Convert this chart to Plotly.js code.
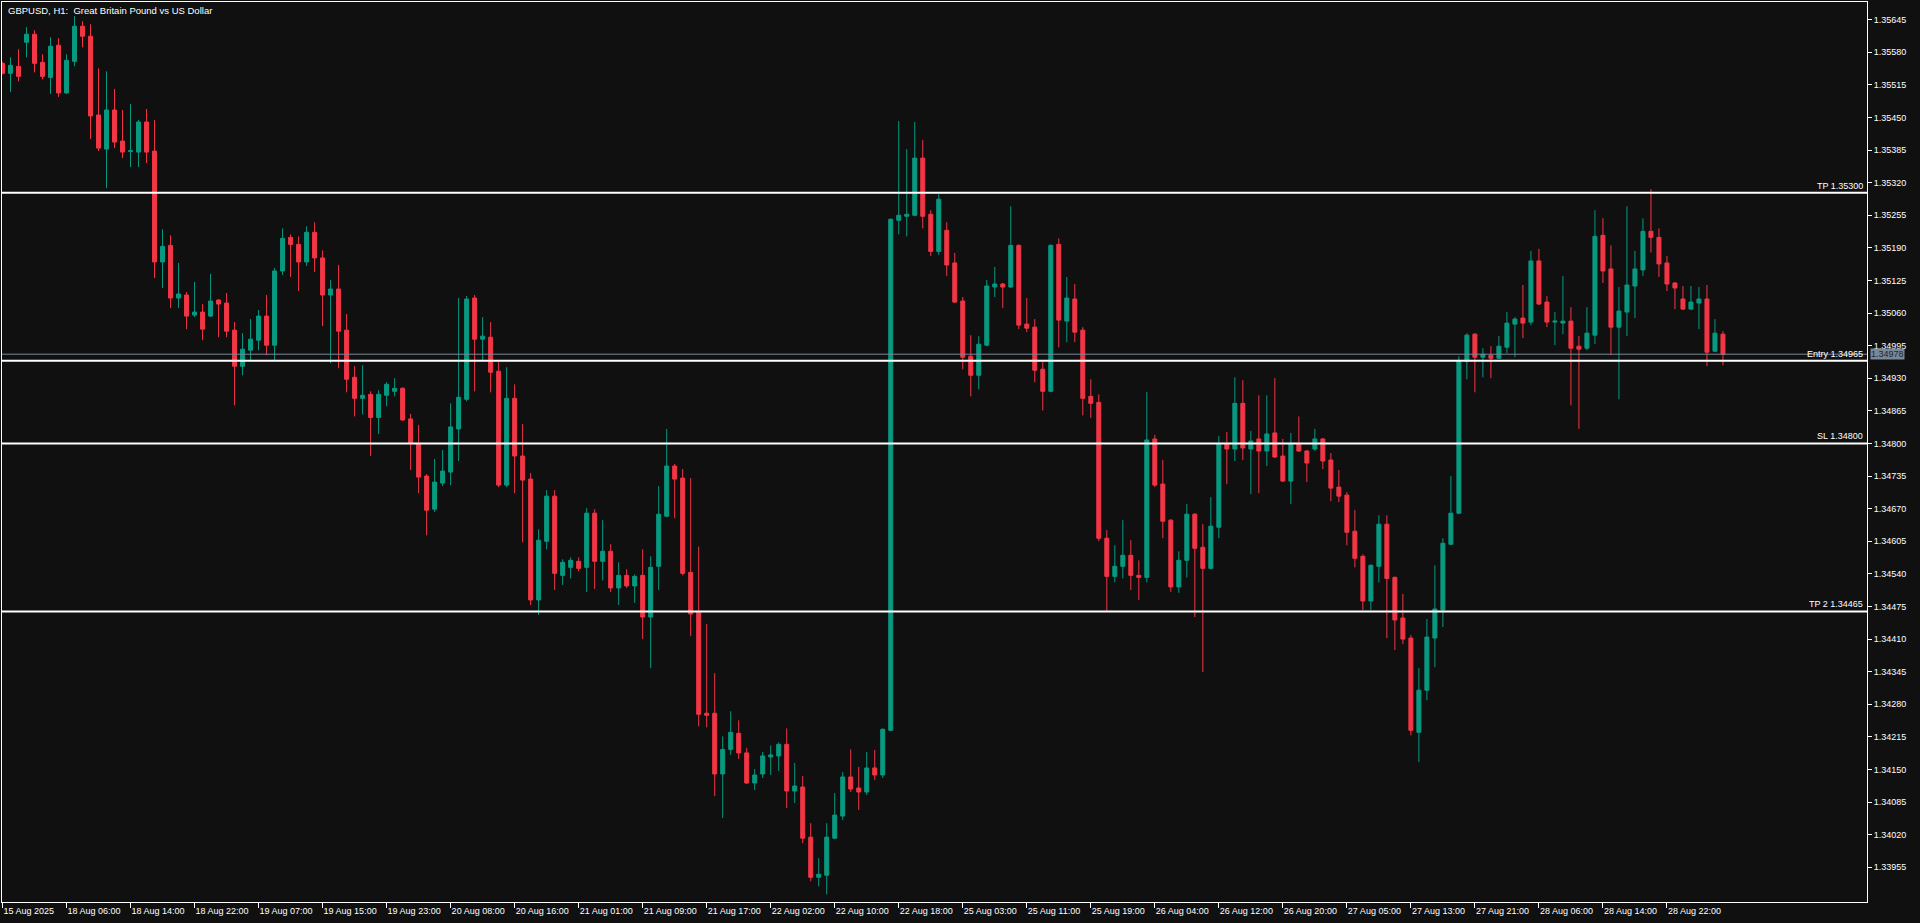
<!DOCTYPE html>
<html><head><meta charset="utf-8">
<script src="https://cdn.plot.ly/plotly-3.0.1.min.js"></script>
<style>html,body{margin:0;padding:0;background:#101010;overflow:hidden}#chart{width:1920px;height:923px}</style>
</head><body><div id="chart"></div>
<script>
const chartTitle = "GBPUSD, H1:\u00a0 Great Britain Pound vs US Dollar";

const openP = [
1.35558,1.35538,1.35552,1.35600,1.35616,1.35560,1.35530,1.35594,1.35499,1.35562,
1.35632,1.35612,1.35455,1.35387,1.35465,1.35403,1.35382,1.35381,1.35441,1.35383,
1.35162,1.35195,1.35090,1.35096,1.35056,1.35062,1.35054,1.35086,1.35080,1.35026,
1.34954,1.34986,1.35006,1.35054,1.34996,1.35144,1.35211,1.35197,1.35162,1.35221,
1.35170,1.35096,1.35108,1.35026,1.34932,1.34890,1.34898,1.34852,1.34896,1.34904,
1.34910,1.34849,1.34799,1.34735,1.34669,1.34721,1.34743,1.34829,1.34888,1.35090,
1.35008,1.35012,1.34944,1.34717,1.34890,1.34775,1.34729,1.34488,1.34605,1.34695,
1.34537,1.34553,1.34565,1.34553,1.34661,1.34565,1.34585,1.34512,1.34537,1.34516,
1.34537,1.34454,1.34555,1.34655,1.34755,1.34731,1.34543,1.34464,1.34262,1.34262,
1.34141,1.34190,1.34222,1.34183,1.34123,1.34141,1.34175,1.34177,1.34200,1.34107,
1.34115,1.34015,1.33935,1.33939,1.34013,1.34057,1.34135,1.34113,1.34105,1.34153,
1.34139,1.34228,1.35245,1.35253,1.35255,1.35369,1.35257,1.35183,1.35225,1.35160,
1.35084,1.34974,1.34936,1.34996,1.35112,1.35118,1.35112,1.35195,1.35038,1.35032,
1.34948,1.34904,1.35197,1.35044,1.35088,1.35026,1.34894,1.34882,1.34611,1.34535,
1.34555,1.34577,1.34537,1.34533,1.34809,1.34719,1.34647,1.34514,1.34567,1.34659,
1.34593,1.34551,1.34633,1.34799,1.34789,1.34880,1.34789,1.34809,1.34785,1.34821,
1.34775,1.34725,1.34799,1.34785,1.34789,1.34809,1.34767,1.34713,1.34697,1.34625,
1.34575,1.34486,1.34555,1.34639,1.34533,1.34452,1.34412,1.34224,1.34308,1.34412,
1.34468,1.34599,1.34661,1.34964,1.35018,1.34972,1.34976,1.34970,1.34992,1.35038,
1.35050,1.35042,1.35164,1.35082,1.35042,1.35040,1.35044,1.34994,1.34990,1.35016,
1.35215,1.35148,1.35032,1.35062,1.35114,1.35146,1.35223,1.35211,1.35160,1.35120,
1.35088,1.35068,1.35080,1.35088,1.34984,1.35018];

const highP = [
1.35561,1.35570,1.35586,1.35630,1.35624,1.35576,1.35610,1.35608,1.35576,1.35652,
1.35642,1.35636,1.35548,1.35542,1.35507,1.35465,1.35477,1.35445,1.35467,1.35445,
1.35227,1.35215,1.35160,1.35102,1.35122,1.35078,1.35138,1.35088,1.35100,1.35042,
1.35020,1.35048,1.35066,1.35096,1.35150,1.35229,1.35217,1.35213,1.35233,1.35241,
1.35185,1.35126,1.35156,1.35058,1.34954,1.34956,1.34904,1.34906,1.34922,1.34930,
1.34912,1.34859,1.34837,1.34739,1.34769,1.34787,1.34880,1.35090,1.35094,1.35096,
1.35052,1.35042,1.34962,1.34952,1.34918,1.34839,1.34741,1.34629,1.34707,1.34707,
1.34569,1.34573,1.34573,1.34671,1.34669,1.34647,1.34599,1.34563,1.34549,1.34539,
1.34589,1.34575,1.34715,1.34829,1.34759,1.34749,1.34731,1.34594,1.34440,1.34342,
1.34216,1.34266,1.34248,1.34193,1.34151,1.34185,1.34198,1.34204,1.34232,1.34163,
1.34137,1.34043,1.33973,1.34043,1.34103,1.34145,1.34190,1.34155,1.34185,1.34189,
1.34232,1.35249,1.35443,1.35387,1.35441,1.35405,1.35265,1.35297,1.35241,1.35180,
1.35092,1.35016,1.35014,1.35126,1.35152,1.35120,1.35273,1.35197,1.35090,1.35048,
1.34962,1.35197,1.35209,1.35132,1.35118,1.35032,1.34928,1.34898,1.34627,1.34597,
1.34647,1.34607,1.34567,1.34903,1.34817,1.34767,1.34649,1.34585,1.34679,1.34661,
1.34639,1.34693,1.34815,1.34823,1.34932,1.34926,1.34825,1.34896,1.34896,1.34930,
1.34809,1.34821,1.34854,1.34787,1.34829,1.34811,1.34781,1.34747,1.34703,1.34667,
1.34579,1.34559,1.34657,1.34657,1.34535,1.34500,1.34418,1.34352,1.34450,1.34557,
1.34611,1.34735,1.34974,1.35020,1.35020,1.34990,1.34994,1.35014,1.35062,1.35052,
1.35116,1.35184,1.35188,1.35094,1.35062,1.35134,1.35072,1.35014,1.35072,1.35265,
1.35249,1.35195,1.35112,1.35273,1.35184,1.35249,1.35307,1.35229,1.35174,1.35122,
1.35114,1.35114,1.35112,1.35116,1.35048,1.35024];

const lowP = [
1.35536,1.35501,1.35522,1.35570,1.35540,1.35526,1.35497,1.35491,1.35497,1.35552,
1.35590,1.35407,1.35383,1.35309,1.35389,1.35369,1.35351,1.35351,1.35359,1.35130,
1.35110,1.35070,1.35070,1.35028,1.35052,1.35006,1.35052,1.35012,1.35012,1.34876,
1.34936,1.34966,1.34986,1.34976,1.34966,1.35136,1.35132,1.35104,1.35154,1.35142,
1.35034,1.34960,1.34950,1.34902,1.34854,1.34858,1.34775,1.34819,1.34874,1.34894,
1.34845,1.34747,1.34701,1.34617,1.34663,1.34715,1.34717,1.34765,1.34884,1.34904,
1.34966,1.34902,1.34713,1.34713,1.34701,1.34603,1.34478,1.34458,1.34589,1.34508,
1.34518,1.34531,1.34545,1.34504,1.34510,1.34527,1.34504,1.34478,1.34512,1.34482,
1.34410,1.34352,1.34508,1.34653,1.34651,1.34537,1.34416,1.34236,1.34234,1.34097,
1.34053,1.34179,1.34171,1.34121,1.34109,1.34133,1.34139,1.34147,1.34073,1.34083,
1.34003,1.33927,1.33917,1.33901,1.34011,1.34049,1.34105,1.34069,1.34099,1.34129,
1.34133,1.34226,1.35217,1.35213,1.35253,1.35229,1.35174,1.35176,1.35134,1.35080,
1.34948,1.34894,1.34908,1.34994,1.35092,1.35070,1.35110,1.35028,1.35022,1.34922,
1.34866,1.34902,1.34992,1.35002,1.35002,1.34856,1.34851,1.34605,1.34466,1.34523,
1.34531,1.34508,1.34488,1.34523,1.34713,1.34611,1.34504,1.34502,1.34533,1.34454,
1.34344,1.34549,1.34611,1.34719,1.34765,1.34767,1.34699,1.34701,1.34755,1.34771,
1.34723,1.34679,1.34783,1.34723,1.34785,1.34749,1.34685,1.34683,1.34597,1.34553,
1.34468,1.34468,1.34523,1.34412,1.34388,1.34400,1.34218,1.34165,1.34288,1.34354,
1.34434,1.34597,1.34659,1.34928,1.34902,1.34932,1.34930,1.34968,1.34980,1.34972,
1.35010,1.35036,1.35076,1.35032,1.34996,1.35018,1.34876,1.34829,1.34986,1.34998,
1.35120,1.34976,1.34888,1.35014,1.35050,1.35134,1.35181,1.35132,1.35104,1.35068,
1.35066,1.35066,1.35028,1.34954,1.34982,1.34956];

const closeP = [
1.35538,1.35554,1.35532,1.35616,1.35558,1.35532,1.35592,1.35499,1.35564,1.35632,
1.35612,1.35453,1.35389,1.35465,1.35401,1.35381,1.35384,1.35441,1.35381,1.35162,
1.35193,1.35090,1.35098,1.35054,1.35062,1.35028,1.35084,1.35078,1.35024,1.34954,
1.34988,1.35008,1.35054,1.34996,1.35144,1.35209,1.35197,1.35162,1.35221,1.35170,
1.35096,1.35108,1.35024,1.34928,1.34890,1.34896,1.34852,1.34898,1.34918,1.34910,
1.34847,1.34801,1.34733,1.34667,1.34723,1.34745,1.34833,1.34892,1.35088,1.35008,
1.35014,1.34942,1.34717,1.34890,1.34775,1.34727,1.34488,1.34607,1.34695,1.34541,
1.34563,1.34567,1.34551,1.34661,1.34565,1.34585,1.34512,1.34537,1.34516,1.34535,
1.34454,1.34553,1.34659,1.34755,1.34729,1.34541,1.34460,1.34260,1.34258,1.34141,
1.34190,1.34224,1.34183,1.34123,1.34139,1.34177,1.34179,1.34200,1.34107,1.34117,
1.34013,1.33935,1.33941,1.34015,1.34059,1.34135,1.34111,1.34105,1.34153,1.34139,
1.34230,1.35247,1.35255,1.35257,1.35369,1.35253,1.35183,1.35287,1.35156,1.35082,
1.34972,1.34936,1.34998,1.35114,1.35118,1.35112,1.35195,1.35036,1.35030,1.34946,
1.34904,1.35195,1.35046,1.35090,1.35022,1.34890,1.34880,1.34611,1.34535,1.34555,
1.34577,1.34537,1.34533,1.34807,1.34717,1.34645,1.34514,1.34567,1.34659,1.34591,
1.34551,1.34635,1.34799,1.34789,1.34880,1.34791,1.34805,1.34785,1.34819,1.34773,
1.34725,1.34799,1.34785,1.34761,1.34809,1.34765,1.34711,1.34695,1.34623,1.34571,
1.34486,1.34557,1.34639,1.34531,1.34448,1.34410,1.34228,1.34308,1.34414,1.34470,
1.34601,1.34661,1.34964,1.35016,1.34972,1.34978,1.34970,1.34994,1.35040,1.35048,
1.35040,1.35164,1.35078,1.35042,1.35044,1.35044,1.34990,1.34988,1.35020,1.35213,
1.35144,1.35032,1.35064,1.35116,1.35148,1.35223,1.35211,1.35158,1.35118,1.35110,
1.35068,1.35082,1.35088,1.34982,1.35020,1.34978];

const timeTickBars = [0,8,16,24,32,40,48,56,64,72,80,88,96,104,112,120,128,136,144,152,160,168,176,184,192,200,208];
const timeTickLabels = ["15 Aug 2025","18 Aug 06:00","18 Aug 14:00","18 Aug 22:00","19 Aug 07:00","19 Aug 15:00","19 Aug 23:00",
  "20 Aug 08:00","20 Aug 16:00","21 Aug 01:00","21 Aug 09:00","21 Aug 17:00","22 Aug 02:00","22 Aug 10:00","22 Aug 18:00",
  "25 Aug 03:00","25 Aug 11:00","25 Aug 19:00","26 Aug 04:00","26 Aug 12:00","26 Aug 20:00","27 Aug 05:00","27 Aug 13:00",
  "27 Aug 21:00","28 Aug 06:00","28 Aug 14:00","28 Aug 22:00"];

const priceTicks = [1.33955,1.34020,1.34085,1.34150,1.34215,1.34280,1.34345,1.34410,1.34475,1.34540,1.34605,1.34670,1.34735,
  1.34800,1.34865,1.34930,1.34995,1.35060,1.35125,1.35190,1.35255,1.35320,1.35385,1.35450,1.35515,1.35580,1.35645];

const levelNames = ["TP", "Entry", "SL", "TP 2"];
const levelValues = [1.35300, 1.34965, 1.34800, 1.34465];
const lastPrice = 1.34978;

const GREEN = '#089981', RED = '#f23645', BG = '#101010', FG = '#ffffff', SLATE = '#778899';
const FONT = 'Liberation Sans, Arial, sans-serif';

const barIndex = openP.map((_, i) => i);

const trace = {
  type: 'candlestick',
  x: barIndex, open: openP, high: highP, low: lowP, close: closeP,
  increasing: {line: {color: GREEN, width: 1}, fillcolor: GREEN},
  decreasing: {line: {color: RED, width: 1}, fillcolor: RED},
  whiskerwidth: 0,
  hoverinfo: 'skip'
};

const shapes = [
  {type:'line', xref:'paper', x0:0, x1:1, yref:'y', y0:lastPrice, y1:lastPrice, line:{color:SLATE, width:1}}
].concat(levelValues.map(v => ({type:'line', xref:'paper', x0:0, x1:1, yref:'y', y0:v, y1:v, line:{color:FG, width:2}})));

const annotations = [
  {text: chartTitle, xref:'paper', yref:'paper', x:0, y:1, xanchor:'left', yanchor:'top', xshift:4, yshift:-1,
   showarrow:false, font:{family:FONT, size:9.5, color:FG}},
  {text: lastPrice.toFixed(5), xref:'paper', yref:'y', x:1, y:lastPrice, xanchor:'left', yanchor:'middle', xshift:3,
   showarrow:false, bgcolor:SLATE, borderpad:0, font:{family:FONT, size:9, color:'#1c2633'}}
].concat(levelNames.map((n, k) => ({
  text: n + ' ' + levelValues[k].toFixed(5), xref:'paper', yref:'y', x:1, y:levelValues[k],
  xanchor:'right', yanchor:'bottom', xshift:-2, yshift:0, showarrow:false,
  font:{family:FONT, size:9, color:FG}
})));

const layout = {
  width: 1920, height: 923,
  margin: {l: 2, r: 53, t: 2, b: 21, pad: 0},
  paper_bgcolor: BG, plot_bgcolor: BG,
  showlegend: false,
  boxgap: 0.5, boxgroupgap: 0,
  font: {family: FONT, size: 9, color: FG},
  xaxis: {
    range: [-0.0625, 233], tickmode: 'array', tickvals: timeTickBars, ticktext: timeTickLabels,
    ticks: 'outside', ticklen: 5, tickwidth: 1, tickcolor: FG, ticklabelposition: 'outside right',
    tickfont: {family: FONT, size: 9, color: FG},
    showgrid: false, zeroline: false, showline: true, mirror: true, linecolor: FG, linewidth: 1,
    rangeslider: {visible: false}, fixedrange: true
  },
  yaxis: {
    side: 'right', range: [1.338857, 1.356803], tickmode: 'array', tickvals: priceTicks, tickformat: '.5f',
    ticks: 'outside', ticklen: 4, tickwidth: 1, tickcolor: FG,
    tickfont: {family: FONT, size: 9, color: FG},
    showgrid: false, zeroline: false, showline: true, mirror: true, linecolor: FG, linewidth: 1, fixedrange: true
  },
  shapes: shapes,
  annotations: annotations
};

Plotly.newPlot('chart', [trace], layout, {staticPlot: true, displayModeBar: false});
</script>
</body></html>
